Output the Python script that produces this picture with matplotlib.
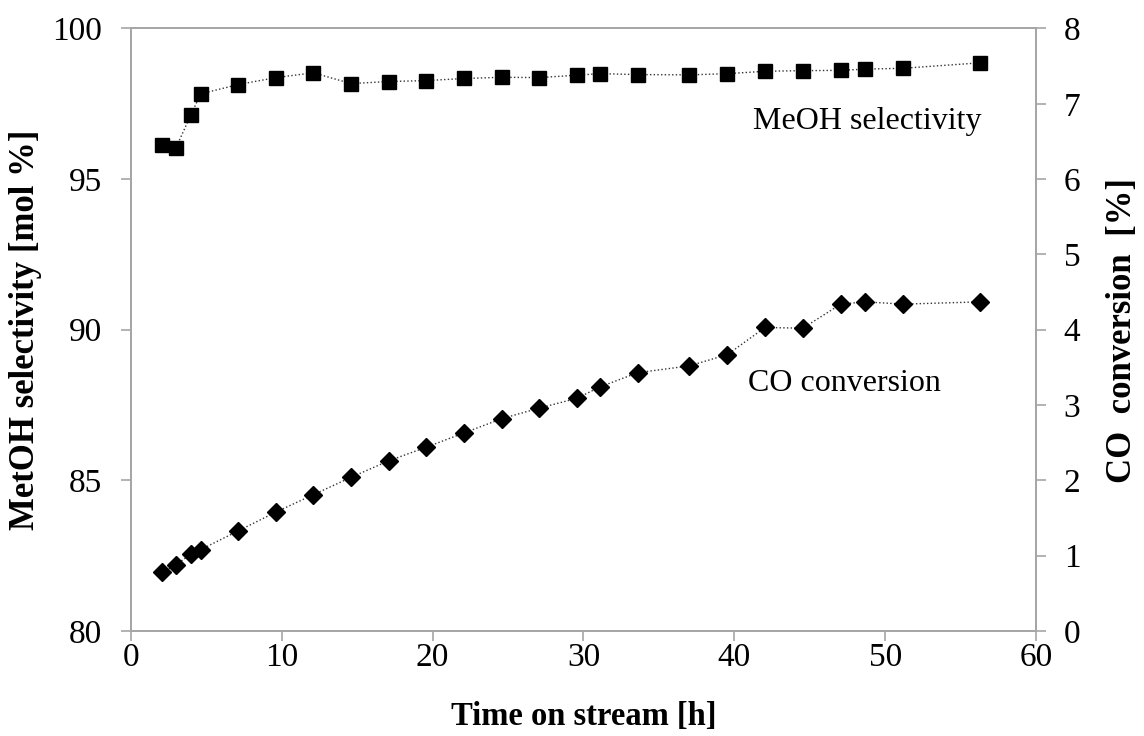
import matplotlib
matplotlib.use("Agg")
import matplotlib.pyplot as plt

time_sel = [2.08, 2.98, 3.98, 4.62, 7.12, 9.62, 12.09, 14.59, 17.09, 19.58, 22.08, 24.6,
            27.08, 29.58, 31.08, 33.6, 37.02, 39.54, 42.04, 44.54, 47.06, 48.67, 51.21, 56.3]
meoh_selectivity = [96.12, 96.04, 97.14, 97.83, 98.14, 98.37, 98.53, 98.17, 98.24, 98.27, 98.34, 98.38,
                    98.37, 98.45, 98.50, 98.47, 98.46, 98.50, 98.58, 98.60, 98.61, 98.65, 98.68, 98.86]
co_conversion = [0.78, 0.88, 1.02, 1.08, 1.33, 1.58, 1.81, 2.04, 2.26, 2.44, 2.63, 2.82,
                 2.96, 3.09, 3.24, 3.43, 3.52, 3.67, 4.03, 4.02, 4.34, 4.37, 4.34, 4.37]

x_ticks = [0, 10, 20, 30, 40, 50, 60]
left_ticks = [80, 85, 90, 95, 100]
right_ticks = [0, 1, 2, 3, 4, 5, 6, 7, 8]

plt.rcParams['font.family'] = ['Liberation Serif', 'DejaVu Serif']
spine_col = '#a6a6a6'

fig = plt.figure(figsize=(11.44, 7.36), dpi=100)
ax = fig.add_axes([0.1145, 0.1427, 0.7911, 0.8186])
ax2 = ax.twinx()

ax.plot(time_sel, meoh_selectivity, linestyle=':', color='#333333', linewidth=1.0,
        marker='s', markersize=10, markerfacecolor='black', markeredgecolor='black', zorder=3)
ax2.plot(time_sel, co_conversion, linestyle=':', color='#333333', linewidth=1.0,
         marker='D', markersize=9.5, markerfacecolor='black', markeredgecolor='black', zorder=3)

ax.set_xlim(0, 60)
ax.set_ylim(80, 100)
ax2.set_ylim(0, 8)
ax.set_xticks(x_ticks)
ax.set_yticks(left_ticks)
ax2.set_yticks(right_ticks)

for a in (ax, ax2):
    for s in a.spines.values():
        s.set_color(spine_col)
        s.set_linewidth(1.3)
    a.tick_params(axis='both', which='major', direction='out', length=7, width=1.2,
                  color=spine_col, labelsize=24, labelcolor='black')
ax.tick_params(axis='x', pad=1)
ax.tick_params(axis='y', pad=14)
ax2.tick_params(axis='y', pad=13)

fig.text(0.51, 0.026, 'Time on stream [h]', fontsize=23.5, fontweight='bold',
         ha='center', va='center')
fig.text(0.022, 0.5516, 'MetOH selectivity [mol %]', fontsize=25, fontweight='bold',
         ha='center', va='center', rotation=90)
fig.text(0.9816, 0.5516, 'CO  conversion  [%]', fontsize=25, fontweight='bold',
         ha='center', va='center', rotation=90)

ax.text(0.94, 0.845, 'MeOH selectivity', transform=ax.transAxes, fontsize=23,
        ha='right', va='center')
ax.text(0.895, 0.41, 'CO conversion', transform=ax.transAxes, fontsize=23,
        ha='right', va='center')

fig.savefig('out.png', dpi=100)
